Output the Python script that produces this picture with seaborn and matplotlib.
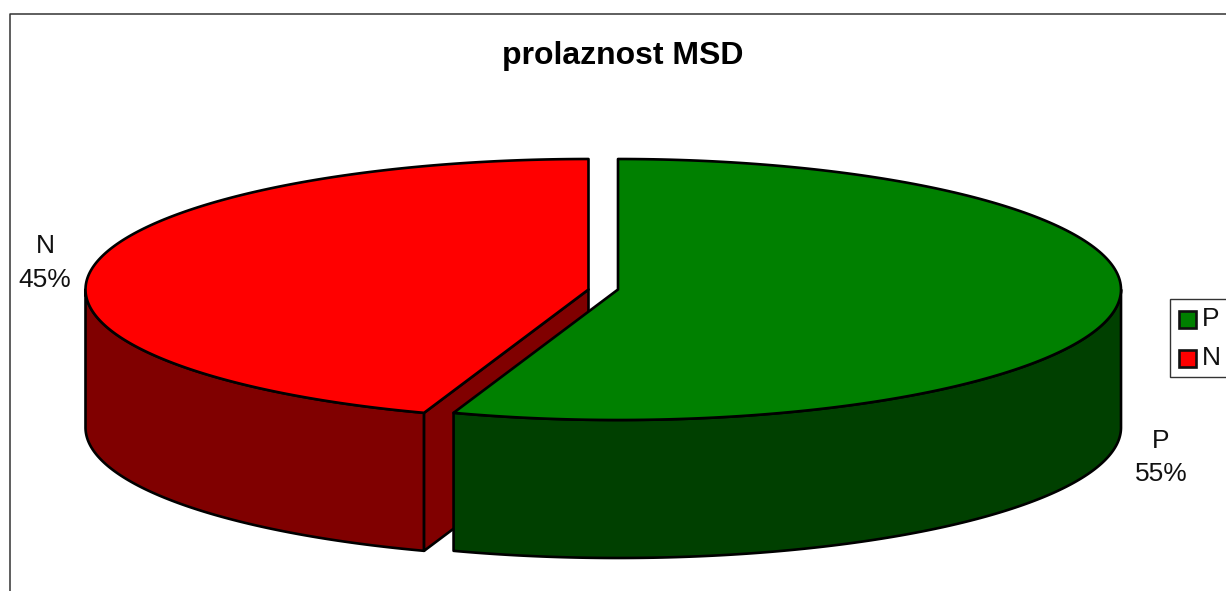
import numpy as np
import seaborn as sns
import matplotlib.pyplot as plt
from matplotlib.patches import Polygon, Rectangle

title = 'prolaznost MSD'
categories = ['P', 'N']
values = [55.3, 44.7]
top_colors = ['#008000', '#FF0000']
side_colors = ['#004000', '#800000']

sns.set_theme(style='white')
plt.rcParams['font.family'] = ['Liberation Sans', 'DejaVu Sans']

# everything is laid out in pixels of the 1226x591 picture
fig, ax = plt.subplots(figsize=(12.26, 5.91), dpi=100)
ax.set_position([0, 0, 1, 1])
ax.set_xlim(0, 1226)
ax.set_ylim(591, 0)
ax.axis('off')

RX, RY = 503, 130.5
CY = 289.5
DEPTH = 138
LW = 1.9


def arc(cx, t0, t1, dy=0):
    t = np.radians(np.linspace(t0, t1, 200))
    return np.column_stack([cx + RX * np.cos(t), CY + dy + RY * np.sin(t)])


def face(points, color):
    ax.add_patch(Polygon(points, closed=True, facecolor=color,
                         edgecolor='black', linewidth=LW, joinstyle='round'))


sweep = [v / sum(values) * 360 for v in values]
cut = -90 + sweep[0]  # where the two slices meet on the rim

# N slice, pulled to the left
cx_n = 588.5
tip = np.array([[cx_n, CY]])
face(np.vstack([arc(cx_n, cut, 180), arc(cx_n, 180, cut, DEPTH)]), side_colors[1])
edge = arc(cx_n, cut, cut + 0.01)[:1]
face(np.vstack([edge, tip, tip + [0, DEPTH], edge + [0, DEPTH]]), side_colors[1])
face(np.vstack([tip, arc(cx_n, -90, -90 - sweep[1])]), top_colors[1])

# P slice
cx_p = 618
tip = np.array([[cx_p, CY]])
face(np.vstack([arc(cx_p, 0, cut), arc(cx_p, cut, 0, DEPTH)]), side_colors[0])
face(np.vstack([tip, arc(cx_p, -90, cut)]), top_colors[0])

# data labels
label_pos = [(1161, 440, 473), (45, 245, 279)]
for name, val, (x, y1, y2) in zip(categories, values, label_pos):
    ax.text(x, y1 + 1, name, ha='center', va='center', fontsize=19, color='#111111')
    ax.text(x, y2 + 1, f'{val:.0f}%', ha='center', va='center', fontsize=19, color='#111111')

ax.text(623, 56, title, ha='center', va='center', fontsize=23,
        fontweight='bold', color='black')

# legend box, runs off the right side
ax.add_patch(Rectangle((1170, 299), 70, 78, facecolor='white', edgecolor='#333333',
                       linewidth=1, clip_on=True))
for name, color, y in zip(categories, top_colors, [319, 358]):
    ax.add_patch(Rectangle((1179, y - 8.5), 17, 17, facecolor=color,
                           edgecolor='#111111', linewidth=LW))
    ax.text(1202, y, name, ha='left', va='center', fontsize=19, color='#111111')

# chart frame, only top and left fall inside the picture
ax.plot([9.5, 9.5, 1226], [591, 14, 14], color='#333333', linewidth=1.1)

fig.savefig('out.png', dpi=100)
